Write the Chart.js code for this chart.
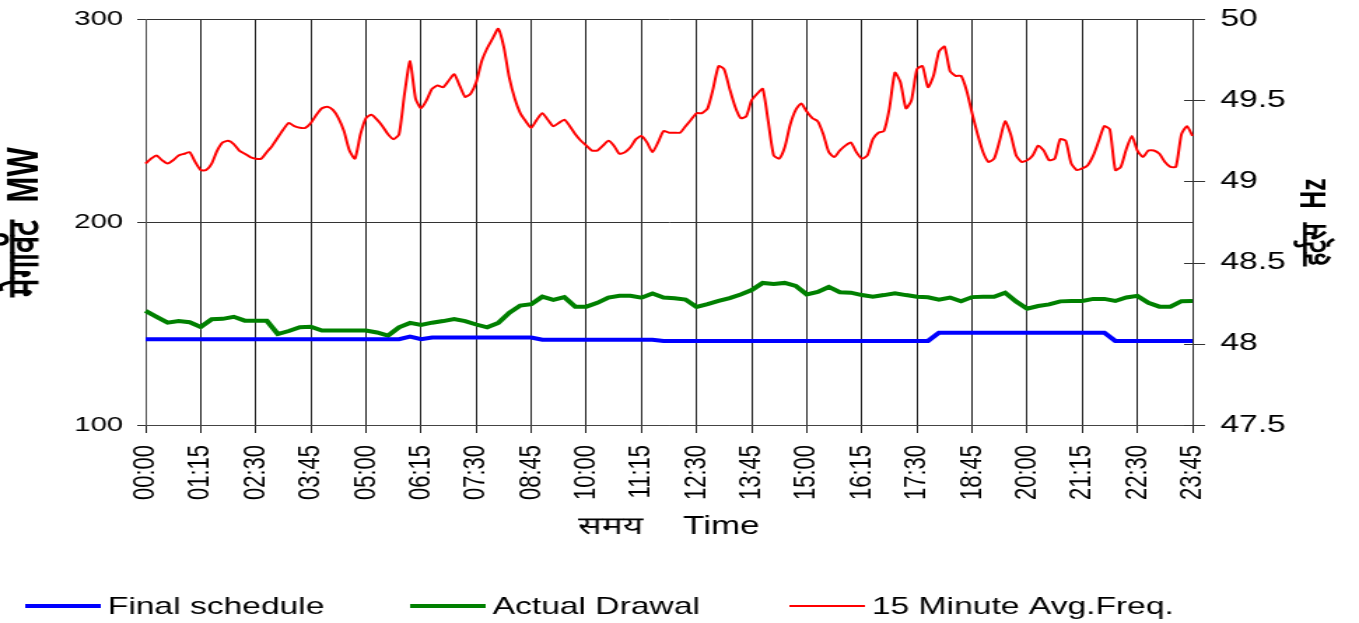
<!DOCTYPE html>
<html lang="hi">
<head>
<meta charset="utf-8">
<title>Final schedule / Actual Drawal / Freq</title>
<script src="https://cdn.jsdelivr.net/npm/chart.js@4.4.1/dist/chart.umd.min.js"></script>
<style>
  html, body { margin: 0; padding: 0; background: #fff; overflow: hidden; }
  /* o original é esticado na horizontal: desenha em 971px e estica até 1359px */
  #grafico { display: block; transform: scaleX(1.39959); transform-origin: 0 0; }
</style>
</head>
<body>
<canvas id="grafico" width="971" height="623"></canvas>
<script>
// horarios de 15 em 15 minutos, 00:00 ... 23:45
const horarios = [];
for (let m = 0; m < 1440; m += 15) {
    horarios.push(String(Math.floor(m / 60)).padStart(2, '0') + ':' + String(m % 60).padStart(2, '0'));
}
// a curva de frequencia foi lida a cada meio intervalo (7,5 min)
const horariosFreq = [];
for (let m = 0; m <= 1425; m += 7.5) {
    const min = Math.floor(m);
    horariosFreq.push(String(Math.floor(min / 60)).padStart(2, '0') + ':' + String(min % 60).padStart(2, '0') + (m % 1 ? ':30' : ''));
}

// MW
const programado = [
    142.3, 142.3, 142.3, 142.3, 142.3, 142.3, 142.3, 142.3, 142.3, 142.3,
    142.3, 142.3, 142.3, 142.3, 142.3, 142.3, 142.3, 142.3, 142.3, 142.3,
    142.3, 142.3, 142.3, 142.3, 143.5, 142.3, 143.1, 143.1, 143.1, 143.1,
    143.1, 143.1, 143.1, 143.1, 143.1, 143.1, 142.0, 142.0, 142.0, 142.0,
    142.0, 142.0, 142.0, 142.0, 142.0, 142.0, 142.0, 141.4, 141.4, 141.4,
    141.4, 141.4, 141.4, 141.4, 141.4, 141.4, 141.4, 141.4, 141.4, 141.4,
    141.4, 141.4, 141.4, 141.4, 141.4, 141.4, 141.4, 141.4, 141.4, 141.4,
    141.4, 141.4, 145.5, 145.5, 145.5, 145.5, 145.5, 145.5, 145.5, 145.5,
    145.5, 145.5, 145.5, 145.5, 145.5, 145.5, 145.5, 145.5, 141.4, 141.4,
    141.4, 141.4, 141.4, 141.4, 141.4, 141.4
];

const realizado = [
    156.2, 153.3, 150.4, 151.2, 150.6, 148.3, 152.1, 152.3, 153.3, 151.4,
    151.4, 151.4, 144.8, 146.3, 148.2, 148.4, 146.5, 146.5, 146.5, 146.5,
    146.5, 145.6, 144.0, 148.1, 150.3, 149.3, 150.4, 151.2, 152.2, 151.2,
    149.5, 148.1, 150.3, 155.3, 158.8, 159.5, 163.2, 161.6, 163.0, 158.3,
    158.3, 160.2, 162.8, 163.7, 163.7, 162.7, 164.8, 162.8, 162.4, 161.8,
    158.2, 159.6, 161.1, 162.5, 164.3, 166.5, 170.0, 169.5, 170.0, 168.5,
    164.3, 165.5, 168.0, 165.4, 165.2, 164.0, 163.2, 164.0, 164.9, 164.0,
    163.2, 162.9, 161.7, 162.8, 160.9, 163.0, 163.2, 163.2, 165.2, 160.8,
    157.3, 158.6, 159.4, 160.9, 161.1, 161.1, 162.1, 162.1, 161.1, 162.8,
    163.6, 160.2, 158.3, 158.3, 161.0, 161.1
];

// Hz
const frequencia = [
    49.11, 49.14, 49.16, 49.13, 49.11, 49.13, 49.16, 49.17, 49.18, 49.12,
    49.07, 49.07, 49.11, 49.19, 49.24, 49.25, 49.23, 49.19, 49.17, 49.15,
    49.14, 49.14, 49.18, 49.22, 49.27, 49.32, 49.36, 49.34, 49.33, 49.33,
    49.36, 49.41, 49.45, 49.46, 49.44, 49.39, 49.31, 49.19, 49.14, 49.29,
    49.39, 49.41, 49.38, 49.34, 49.29, 49.26, 49.29, 49.54, 49.74, 49.51,
    49.45, 49.50, 49.57, 49.59, 49.58, 49.62, 49.66, 49.59, 49.52, 49.54,
    49.61, 49.74, 49.82, 49.88, 49.94, 49.83, 49.64, 49.51, 49.42, 49.37,
    49.33, 49.38, 49.42, 49.38, 49.34, 49.36, 49.38, 49.34, 49.29, 49.25,
    49.22, 49.19, 49.19, 49.22, 49.25, 49.22, 49.17, 49.18, 49.21, 49.26,
    49.28, 49.24, 49.18, 49.24, 49.31, 49.30, 49.30, 49.30, 49.34, 49.38,
    49.42, 49.42, 49.45, 49.57, 49.71, 49.69, 49.57, 49.46, 49.39, 49.40,
    49.50, 49.54, 49.57, 49.37, 49.16, 49.14, 49.21, 49.35, 49.44, 49.48,
    49.43, 49.39, 49.37, 49.29, 49.18, 49.15, 49.19, 49.22, 49.24, 49.18,
    49.14, 49.16, 49.26, 49.30, 49.31, 49.45, 49.67, 49.61, 49.45, 49.50,
    49.69, 49.71, 49.58, 49.65, 49.80, 49.83, 49.68, 49.65, 49.65, 49.56,
    49.42, 49.29, 49.18, 49.12, 49.14, 49.25, 49.37, 49.29, 49.16, 49.12,
    49.13, 49.16, 49.22, 49.19, 49.13, 49.14, 49.26, 49.25, 49.11, 49.07,
    49.08, 49.10, 49.16, 49.25, 49.34, 49.32, 49.07, 49.09, 49.20, 49.28,
    49.19, 49.15, 49.19, 49.19, 49.17, 49.12, 49.09, 49.09, 49.29, 49.34,
    49.28
];

const fonte = '"Liberation Sans", Arial, sans-serif';
const tituloHz = 'हर्ट्स  Hz';
const posLegenda = [18, 293, 564];

// legenda de baixo, titulo do eixo da direita e tiques dos eixos verticais
const extras = {
    id: 'extras',
    afterDraw(chart) {
        const ctx = chart.ctx;
        const area = chart.chartArea;
        const eixoMW = chart.scales.y;
        const eixoHz = chart.scales.y1;

        ctx.save();
        ctx.strokeStyle = '#333';
        ctx.lineWidth = 1;
        eixoMW.ticks.forEach(function (t) {
            const py = Math.round(eixoMW.getPixelForValue(t.value)) + 0.5;
            ctx.beginPath();
            ctx.moveTo(area.left - 6, py);
            ctx.lineTo(area.left, py);
            ctx.stroke();
        });
        eixoHz.ticks.forEach(function (t) {
            const py = Math.round(eixoHz.getPixelForValue(t.value)) + 0.5;
            ctx.beginPath();
            ctx.moveTo(area.right - 6, py);
            ctx.lineTo(area.right + 9, py);
            ctx.stroke();
        });

        ctx.translate(940, (area.top + area.bottom) / 2);
        ctx.rotate(-Math.PI / 2);
        ctx.font = 'bold 25px ' + fonte;
        ctx.fillStyle = '#000';
        ctx.textAlign = 'center';
        ctx.textBaseline = 'middle';
        ctx.fillText(tituloHz, 0, 0);
        ctx.restore();

        ctx.save();
        ctx.font = '24px ' + fonte;
        ctx.textBaseline = 'middle';
        ctx.fillStyle = '#000';
        chart.data.datasets.forEach(function (ds, i) {
            const x = posLegenda[i];
            ctx.strokeStyle = ds.borderColor;
            ctx.lineWidth = ds.borderWidth;
            ctx.beginPath();
            ctx.moveTo(x, 606);
            ctx.lineTo(x + 54, 606);
            ctx.stroke();
            ctx.fillText(ds.label, x + 59, 607);
        });
        ctx.restore();
    }
};

const corGrade = function (c) {
    return c.index % 5 === 0 ? '#222' : 'rgba(0,0,0,0)';
};

const config = {
    type: 'line',
    data: {
        labels: horarios,
        datasets: [
            {
                label: 'Final schedule',
                data: programado,
                borderColor: '#0000ff',
                borderWidth: 4,
                pointRadius: 0,
                tension: 0,
                xAxisID: 'x',
                yAxisID: 'y'
            },
            {
                label: 'Actual Drawal',
                data: realizado,
                borderColor: '#008000',
                borderWidth: 4,
                pointRadius: 0,
                tension: 0,
                xAxisID: 'x',
                yAxisID: 'y'
            },
            {
                label: '15 Minute Avg.Freq.',
                data: frequencia,
                borderColor: '#ff0000',
                borderWidth: 2,
                pointRadius: 0,
                tension: 0.2,
                xAxisID: 'x2',
                yAxisID: 'y1'
            }
        ]
    },
    options: {
        responsive: false,
        animation: false,
        devicePixelRatio: 1,
        layout: { padding: { top: 19, left: 0, right: 0, bottom: 0 } },
        plugins: {
            legend: { display: false },
            tooltip: { enabled: false }
        },
        scales: {
            x: {
                type: 'category',
                offset: false,
                grid: { color: corGrade, tickColor: corGrade, tickLength: 8, lineWidth: 1 },
                border: { color: '#444' },
                ticks: {
                    autoSkip: false,
                    maxRotation: 90,
                    minRotation: 90,
                    padding: 12,
                    color: '#000',
                    font: { family: fonte, size: 22 },
                    callback: function (v, i) {
                        return i % 5 === 0 ? horarios[i] : '';
                    }
                },
                title: {
                    display: true,
                    text: 'समय    Time',
                    color: '#000',
                    font: { family: fonte, size: 25 },
                    padding: { top: 0, bottom: 81 }
                },
                afterFit: function (s) { s.height = 198; }
            },
            x2: {
                type: 'category',
                labels: horariosFreq,
                display: false,
                offset: false
            },
            y: {
                position: 'left',
                min: 100,
                max: 300,
                ticks: { stepSize: 100, padding: 6, color: '#000', font: { family: fonte, size: 21 } },
                grid: { color: '#333', tickColor: 'rgba(0,0,0,0)', tickLength: 10 },
                border: { color: '#555' },
                title: {
                    display: true,
                    text: 'मेगावॅट  MW',
                    color: '#000',
                    font: { family: fonte, size: 31, weight: 'bold' },
                    padding: { top: 0 }
                },
                afterFit: function (s) { s.width = 104; }
            },
            y1: {
                position: 'right',
                min: 47.5,
                max: 50,
                ticks: {
                    stepSize: 0.5,
                    padding: 4,
                    color: '#000',
                    font: { family: fonte, size: 24 },
                    callback: function (v) { return String(v); }
                },
                grid: { drawOnChartArea: false, tickColor: 'rgba(0,0,0,0)', tickLength: 16 },
                border: { color: '#333' },
                afterFit: function (s) { s.width = 119; }
            }
        }
    },
    plugins: [extras]
};

new Chart(document.getElementById('grafico'), config);
</script>
</body>
</html>
